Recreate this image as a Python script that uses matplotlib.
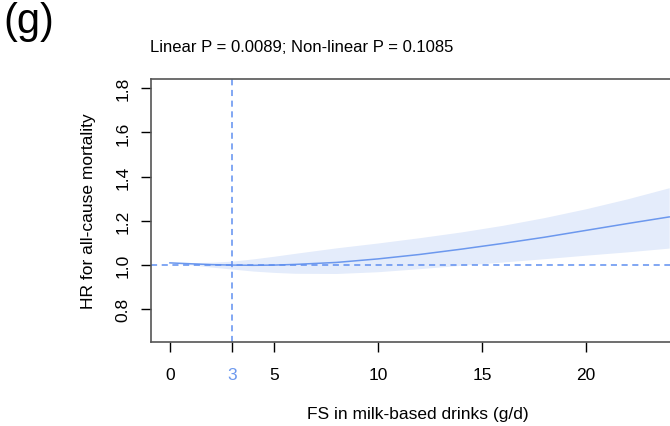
import numpy as np
import matplotlib.pyplot as plt

plt.rcParams['font.family'] = ['Liberation Sans', 'DejaVu Sans']

# Datos (curva RCS y su IC 95%)
dosis = [0, 1, 2, 3, 4, 5, 6, 8, 10, 12, 14, 16, 18, 20, 22, 24]
hr = [1.010, 1.006, 1.002, 1.000, 0.999, 1.000, 1.003, 1.012, 1.028, 1.048,
      1.072, 1.098, 1.126, 1.157, 1.188, 1.218]
ic_sup = [1.010, 1.011, 1.013, 1.018, 1.028, 1.040, 1.053, 1.078, 1.100, 1.124,
          1.150, 1.180, 1.215, 1.255, 1.300, 1.350]
ic_inf = [1.010, 1.001, 0.991, 0.982, 0.973, 0.967, 0.963, 0.962, 0.970, 0.984,
          0.999, 1.014, 1.029, 1.045, 1.060, 1.077]
ref_x = 3
x_ticks = [0, 3, 5, 10, 15, 20]
y_ticks = [0.8, 1.0, 1.2, 1.4, 1.6, 1.8]

azul = '#6C98EE'
relleno = '#E4ECFB'

fig = plt.figure(figsize=(6.7, 4.27), dpi=100)
ax = fig.add_axes([151 / 670, 84 / 427, (685 - 151) / 670, 263 / 427])

ax.fill_between(dosis, ic_inf, ic_sup, color=relleno, linewidth=0)
ax.plot(dosis, hr, color=azul, linewidth=1.1)
ax.axhline(1.0, color='#5F8FF0', linestyle=(0, (4, 3)), linewidth=1.1)
ax.axvline(ref_x, color='#5F8FF0', linestyle=(0, (4, 3)), linewidth=1.1)

ax.set_xlim(-0.91, 24.76)
ax.set_ylim(0.652, 1.842)
ax.set_xticks(x_ticks)
ax.set_xticklabels([str(t) for t in x_ticks])
ax.set_yticks(y_ticks)
ax.set_yticklabels(['%.1f' % t for t in y_ticks], rotation=90, va='center')

ax.tick_params(axis='both', direction='out', length=7, width=1, labelsize=12.5,
               color='black')
ax.tick_params(axis='x', pad=11)
ax.tick_params(axis='y', pad=8)
ax.get_xticklabels()[1].set_color(azul)
ax.get_xticklines()[2].set_color(azul)
for lado in ['top', 'left', 'bottom', 'right']:
    ax.spines[lado].set_color('#555555')
    ax.spines[lado].set_linewidth(1.2)

ax.set_xlabel('FS in milk-based drinks (g/d)', fontsize=12.5, labelpad=17)
ax.set_ylabel('HR for all-cause mortality', fontsize=12.5, labelpad=14)

fig.text(150 / 670, 1 - 48 / 427, 'Linear P = 0.0089; Non-linear P = 0.1085',
         fontsize=12, ha='left', va='center')
fig.text(3 / 670, 1 - 22 / 427, '(g)', fontsize=30, ha='left', va='center')

plt.savefig('out.png', dpi=100)
